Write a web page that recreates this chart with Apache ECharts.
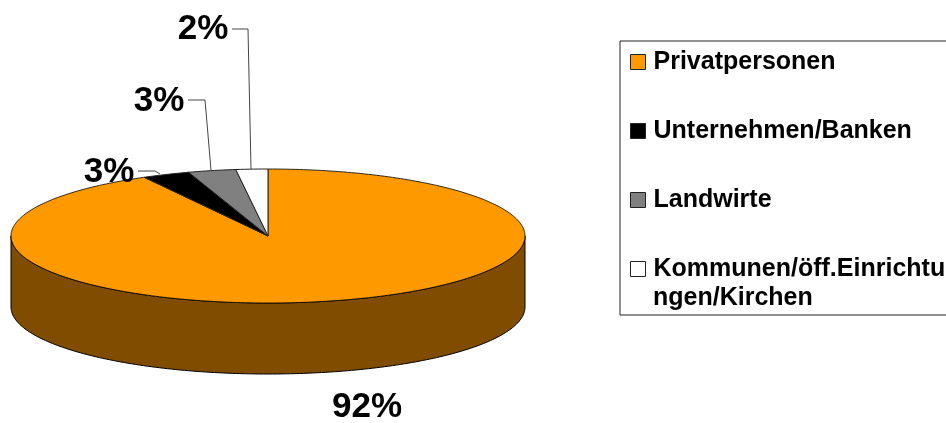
<!DOCTYPE html>
<html><head><meta charset="utf-8">
<style>html,body{margin:0;padding:0;background:#fff}#c{width:946px;height:423px}</style>
<script src="https://cdn.jsdelivr.net/npm/echarts@6/dist/echarts.min.js"></script>
</head><body><div id="c"></div>
<script>
const categories = ['Privatpersonen','Unternehmen/Banken','Landwirte','Kommunen/öff.Einrichtungen/Kirchen'];
const values = [92,3,3,2];
const colors = ['#FF9900','#000000','#808080','#FFFFFF'];
const wallColor = '#7F4C00';
const wrapAt = 22;

const geo = {cx:268, cy:236, rx:257, ry:67, depth:71};
const labelLayout = [
  {x:367,y:407,line:null},
  {x:109,y:172,line:[[138,171],[155,171],[160,174]]},
  {x:159,y:101,line:[[188,100],[205,100],[211,170]]},
  {x:203,y:29,line:[[232,29],[248,29],[251,169]]}
];
const total = values.reduce((a,b)=>a+b,0);
function pt(deg,dy){const r=deg*Math.PI/180;return [geo.cx+geo.rx*Math.sin(r),geo.cy-geo.ry*Math.cos(r)+(dy||0)];}
function renderSlice(i){
  return function(){
    let start=0; for(let k=0;k<i;k++) start+=values[k]/total*360;
    const end=start+values[i]/total*360;
    const top=[[geo.cx,geo.cy]];
    for(let a=start;a<end;a+=1) top.push(pt(a));
    top.push(pt(end));
    const children=[];
    if(i===0){
      const wall=[];
      for(let a=90;a<=270;a+=1) wall.push(pt(a));
      for(let a=270;a>=90;a-=1) wall.push(pt(a,geo.depth));
      children.push({type:'polygon',shape:{points:wall},style:{fill:wallColor,stroke:'#000',lineWidth:1},silent:true});
    }
    children.push({type:'polygon',shape:{points:top},style:{fill:colors[i],stroke:i===0?'#000':'#222',lineWidth:i===0?0.8:1},silent:true});
    const L=labelLayout[i];
    if(L.line) children.push({type:'polyline',shape:{points:L.line},style:{fill:null,stroke:'#444',lineWidth:1},z2:5,silent:true});
    children.push({type:'text',x:L.x,y:L.y,z2:10,silent:true,style:{text:values[i]+'%',fill:'#000',font:'bold 35px "Liberation Sans"',textAlign:'center',textVerticalAlign:'middle'}});
    return {type:'group',children};
  };
}
const chart=echarts.init(document.getElementById('c'),null,{renderer:'canvas'});
chart.setOption({
  animation:false,
  backgroundColor:'#fff',
  legend:{
    orient:'vertical',left:620,top:41,
    padding:[6,20,31,10],
    itemGap:39,itemWidth:15,itemHeight:15,
    selectedMode:false,icon:'rect',
    backgroundColor:'#fff',borderColor:'#222',borderWidth:1,borderRadius:0,
    itemStyle:{borderColor:'#222',borderWidth:1},
    data:categories,
    formatter:n=>n.slice(0,wrapAt),
    textStyle:{fontFamily:'Liberation Sans',fontWeight:'bold',fontSize:25,color:'#000',lineHeight:30,padding:[0,0,0,3]}
  },
  graphic:[{type:'text',left:653,top:283,z:10,silent:true,style:{text:categories[3].slice(wrapAt),fill:'#000',font:'bold 25px "Liberation Sans"',lineHeight:30}}],
  series:categories.map((name,i)=>({
    type:'custom',name,coordinateSystem:'none',
    itemStyle:{color:colors[i]},
    data:[values[i]],
    renderItem:renderSlice(i),clip:false,z:2
  }))
});
</script></body></html>
